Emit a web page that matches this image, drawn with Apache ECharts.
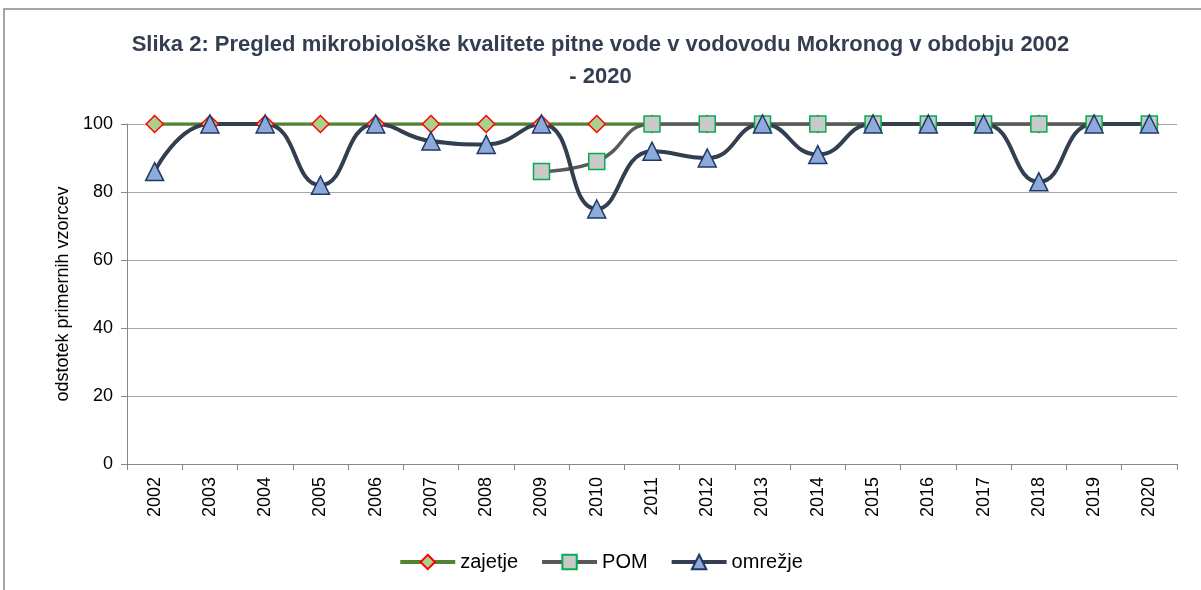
<!DOCTYPE html>
<html>
<head>
<meta charset="utf-8">
<script src="https://cdn.jsdelivr.net/npm/echarts@6/dist/echarts.min.js"></script>
<style>
  html, body { margin: 0; padding: 0; background: #fff; }
  #chart { width: 1201px; height: 590px; }
</style>
</head>
<body>
<div id="chart"></div>
<script>
var years = ['2002', '2003', '2004', '2005', '2006', '2007', '2008', '2009', '2010', '2011',
  '2012', '2013', '2014', '2015', '2016', '2017', '2018', '2019', '2020'];
var zajetje = [100, 100, 100, 100, 100, 100, 100, 100, 100, 100,
  100, 100, 100, 100, 100, 100, 100, 100, 100];
var pom = [null, null, null, null, null, null, null, 86, 89, 100,
  100, 100, 100, 100, 100, 100, 100, 100, 100];
var omrezje = [86, 100, 100, 82, 100, 95, 94, 100, 75, 92,
  90, 100, 91, 100, 100, 100, 83, 100, 100];

var FONT = "'Liberation Sans', Arial, sans-serif";

var option = {
  backgroundColor: '#fff',
  animation: false,
  title: {
    left: 'center',
    top: 24,
    text: 'Slika 2: Pregled mikrobiološke kvalitete pitne vode v vodovodu Mokronog v obdobju 2002\n- 2020',
    textStyle: {
      color: '#333f50',
      fontSize: 22,
      fontWeight: 'bold',
      lineHeight: 32,
      fontFamily: FONT
    }
  },
  graphic: [{
    type: 'rect',
    shape: { x: 4, y: 9, width: 1400, height: 800 },
    style: { fill: 'none', stroke: '#a6a6a6', lineWidth: 2 },
    silent: true
  }],
  legend: {
    bottom: 13,
    left: 'center',
    itemWidth: 55,
    itemHeight: 18,
    itemGap: 22,
    textStyle: { fontSize: 20, color: '#000', fontFamily: FONT },
    data: [
      { name: 'zajetje', lineStyle: { width: 4 } },
      { name: 'POM', lineStyle: { width: 4 } },
      { name: 'omrežje', lineStyle: { width: 4 } }
    ]
  },
  grid: {
    left: 127,
    right: 24,
    top: 124,
    bottom: 126
  },
  xAxis: {
    type: 'category',
    data: years,
    boundaryGap: true,
    axisLine: { lineStyle: { color: '#868686', width: 1 } },
    axisTick: { show: true, length: 6, lineStyle: { color: '#868686' } },
    axisLabel: {
      rotate: 90,
      color: '#000',
      fontSize: 18,
      margin: 13,
      fontFamily: FONT
    }
  },
  yAxis: {
    type: 'value',
    min: 0,
    max: 100,
    interval: 20,
    name: 'odstotek primernih vzorcev',
    nameLocation: 'middle',
    nameGap: 53,
    nameTextStyle: { fontSize: 18, color: '#000', fontFamily: FONT },
    axisLine: { show: true, lineStyle: { color: '#868686' } },
    axisTick: { show: true, length: 6, lineStyle: { color: '#868686' } },
    axisLabel: { color: '#000', fontSize: 18, margin: 14, fontFamily: FONT },
    splitLine: { lineStyle: { color: '#a6a6a6', width: 1 } }
  },
  series: [{
    name: 'zajetje',
    type: 'line',
    data: zajetje,
    symbol: 'diamond',
    symbolSize: 17,
    showAllSymbol: true,
    lineStyle: { color: '#548235', width: 3.5 },
    itemStyle: { color: '#a9d18e', borderColor: '#ff0000', borderWidth: 1.5 }
  }, {
    name: 'POM',
    type: 'line',
    data: pom,
    smooth: true,
    symbol: 'rect',
    symbolSize: 16,
    showAllSymbol: true,
    lineStyle: { color: '#595959', width: 3.5 },
    itemStyle: { color: '#c9c9c9', borderColor: '#00b050', borderWidth: 1.5 }
  }, {
    name: 'omrežje',
    type: 'line',
    data: omrezje,
    smooth: true,
    symbol: 'triangle',
    symbolSize: 18,
    showAllSymbol: true,
    lineStyle: { color: '#323f4f', width: 4 },
    itemStyle: { color: '#8eaadb', borderColor: '#1f3864', borderWidth: 1.5 }
  }]
};

var chart = echarts.init(document.getElementById('chart'));
chart.setOption(option);
</script>
</body>
</html>
